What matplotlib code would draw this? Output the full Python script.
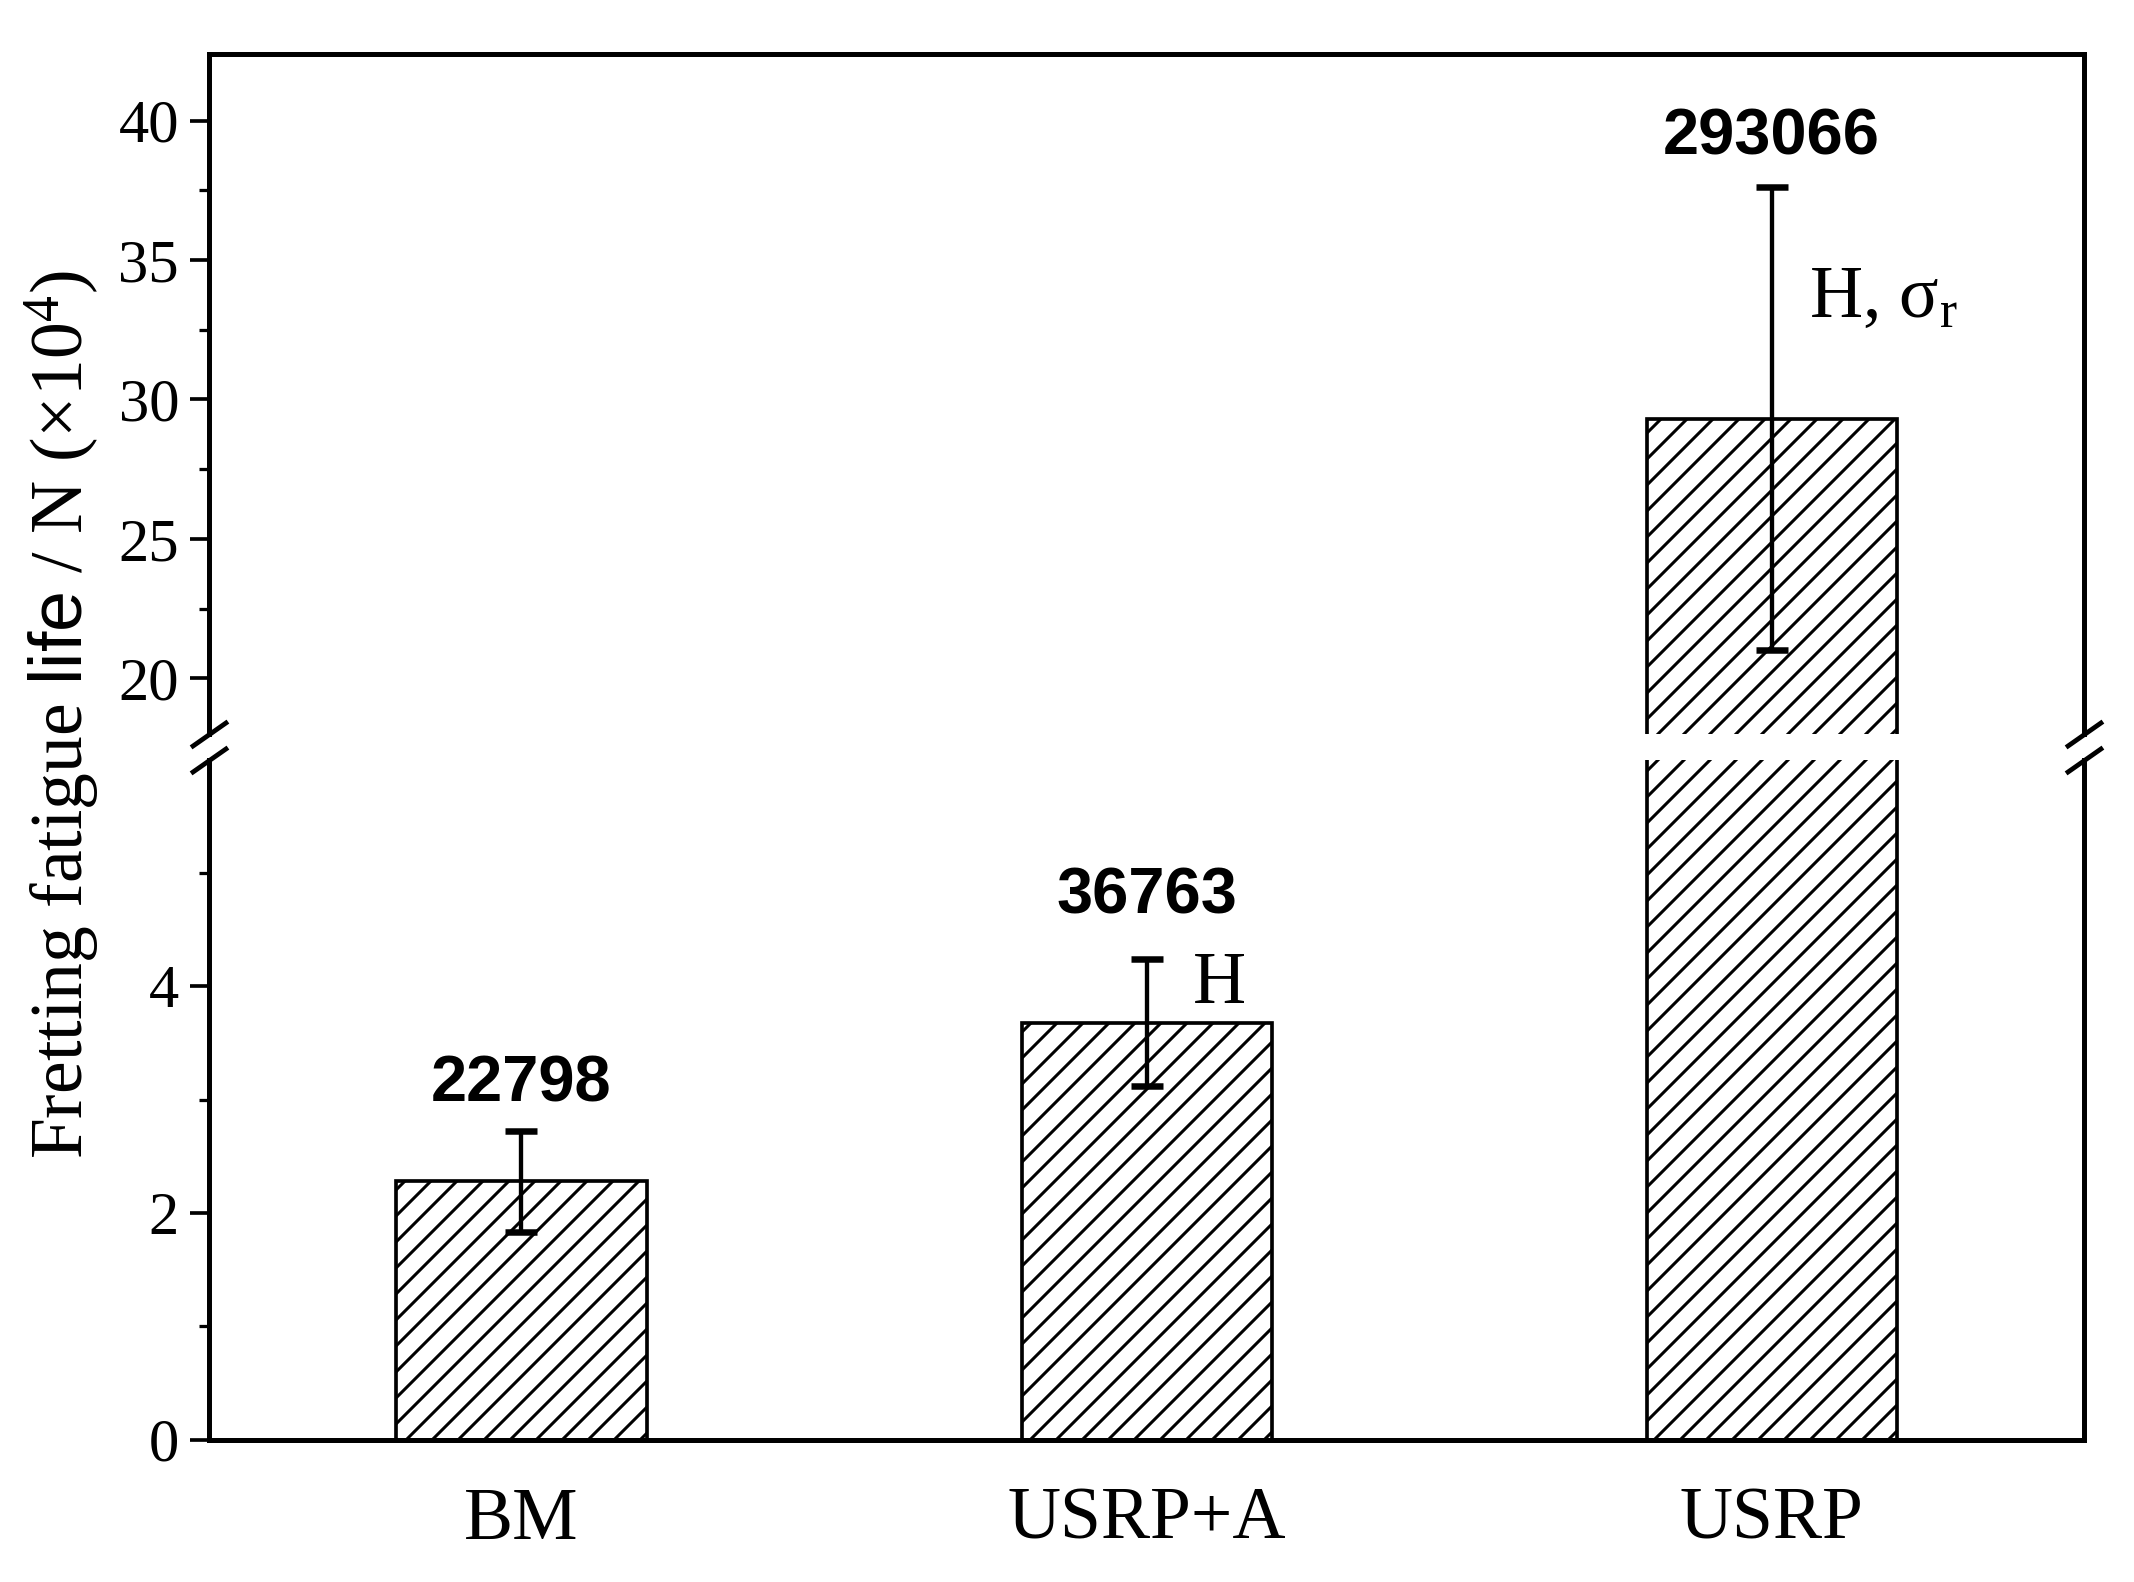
import matplotlib
matplotlib.use("Agg")
import matplotlib.pyplot as plt
from matplotlib.ticker import FixedLocator
import numpy as np

categories = ["BM", "USRP+A", "USRP"]
life = [22798, 36763, 293066]          # mean fretting fatigue life, cycles
life_err = [4450, 5600, 83100]         # cycles
notes = ["", "H", "H, σ$_\\mathrm{r}$"]

# layout only (points)
value_pad = [13.7, 21, 15]
note_offsets = [(0, 0), (21.5, 9.2), (17.3, 47)]

DPI = 156
plt.rcParams["font.family"] = ["Liberation Serif", "DejaVu Serif"]
plt.rcParams["mathtext.fontset"] = "custom"
plt.rcParams["mathtext.rm"] = "Liberation Serif"
plt.rcParams["mathtext.it"] = "Liberation Serif:italic"
plt.rcParams["mathtext.sf"] = "Liberation Sans"
plt.rcParams["hatch.linewidth"] = 1.4
plt.rcParams["hatch.color"] = "black"

vals = np.array(life) / 1e4
errs = np.array(life_err) / 1e4
x = np.arange(1, len(categories) + 1)

fig = plt.figure(figsize=(2134 / DPI, 1582 / DPI), dpi=DPI)
ax_hi = fig.add_axes([0.0979, 0.536, 0.8788, 0.4301])
ax_lo = fig.add_axes([0.0979, 0.0900, 0.8788, 0.4299])

for ax in (ax_hi, ax_lo):
    ax.bar(x, vals, width=0.4, facecolor="white", edgecolor="black",
           linewidth=1.7, hatch="//")
    ax.errorbar(x, vals, yerr=errs, fmt="none", ecolor="black",
                elinewidth=2.0, capsize=7.6, capthick=3.0)
    ax.set_xlim(0.5, 3.5)
    for s in ax.spines.values():
        s.set_linewidth(2.3)
    ax.tick_params(axis="y", which="major", length=8.8, width=1.7,
                   labelsize=28, pad=5, direction="out")
    ax.tick_params(axis="y", which="minor", length=4.6, width=1.5,
                   direction="out")
    ax.tick_params(axis="x", length=0)

ax_hi.set_ylim(18, 42.4)
ax_hi.set_yticks([20, 25, 30, 35, 40])
ax_hi.yaxis.set_minor_locator(FixedLocator([22.5, 27.5, 32.5, 37.5]))
ax_hi.spines["bottom"].set_visible(False)
ax_hi.tick_params(axis="x", bottom=False, labelbottom=False)

ax_lo.set_ylim(0, 6)
ax_lo.set_yticks([0, 2, 4])
ax_lo.yaxis.set_minor_locator(FixedLocator([1, 3, 5]))
ax_lo.spines["top"].set_visible(False)
ax_lo.set_xticks(x, categories)
ax_lo.tick_params(axis="x", labelsize=34, pad=22)

# break marks
kw = dict(marker=[(-1, -0.7), (1, 0.7)], markersize=17, linestyle="none",
          color="k", mec="k", mew=2.2, clip_on=False)
ax_hi.plot([0, 1], [0, 0], transform=ax_hi.transAxes, **kw)
ax_lo.plot([0, 1], [1, 1], transform=ax_lo.transAxes, **kw)

# value labels and notes
for i in range(len(categories)):
    top = vals[i] + errs[i]
    ax = ax_lo if top < 6 else ax_hi
    ax.annotate(str(life[i]), xy=(x[i], top), xytext=(0, value_pad[i]),
                textcoords="offset points", ha="center", va="baseline",
                fontfamily="Liberation Sans", fontweight="bold", fontsize=30)
    if notes[i]:
        axn = ax_lo if vals[i] < 6 else ax_hi
        axn.annotate(notes[i], xy=(x[i], vals[i]), xytext=note_offsets[i],
                     textcoords="offset points", ha="left", va="baseline",
                     fontsize=34)

fig.text(0.029, 0.5484, "Fretting fatigue $\\mathsf{life}$ / N (×10$^4$)",
         rotation=90, ha="center", va="center", fontsize=34)

fig.savefig("out.png", dpi=DPI)
